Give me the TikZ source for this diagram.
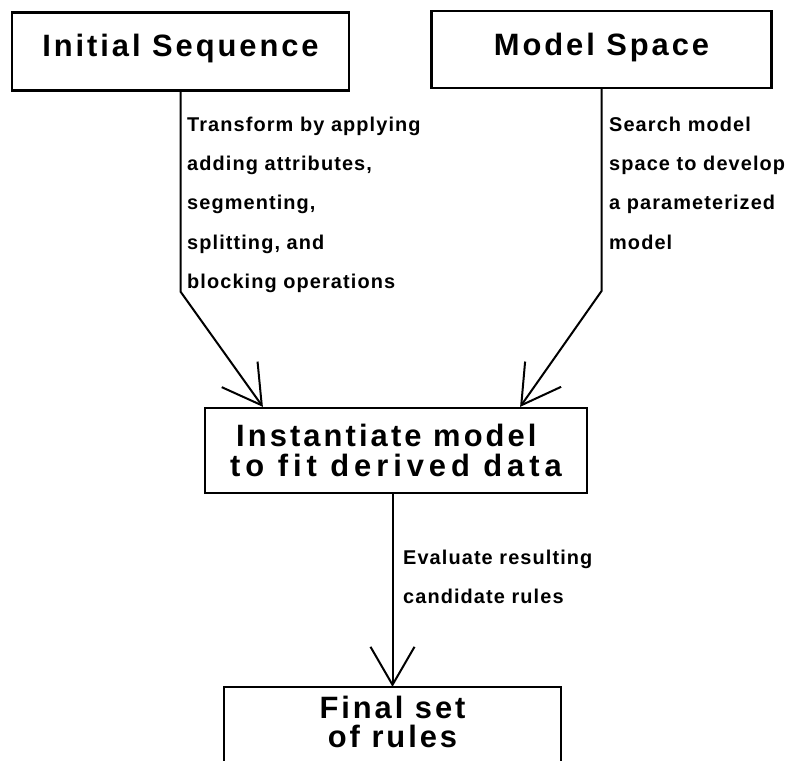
\documentclass[tikz,border=0pt]{standalone}
\usepackage{fontspec}
\setmainfont{Liberation Sans}
\newfontfamily\ttlfont[LetterSpace=9.5]{Liberation Sans}
\newfontfamily\midfonta[LetterSpace=10]{Liberation Sans}
\newfontfamily\midfontb[LetterSpace=16]{Liberation Sans}
\newfontfamily\lblfont[LetterSpace=5.5]{Liberation Sans}
\usetikzlibrary{arrows.meta,calc}
\tikzset{
  box/.style={draw, line width=2.2bp, rectangle, inner sep=0pt},
  ttl/.style={font=\ttlfont\bfseries\fontsize{31}{30}\selectfont},
  midttl/.style={font=\bfseries\fontsize{31}{30}\selectfont, align=left},
  lbl/.style={font=\lblfont\bfseries\fontsize{20}{39.5}\selectfont, align=left, inner sep=0pt, anchor=north west},
  arr/.style={line width=2bp, -{Straight Barb[length=38bp,width=44bp,line width=2bp]}},
}
\begin{document}
\begin{tikzpicture}[x=1bp,y=-1bp]
\fill[white] (0,0) rectangle (793,761);
\useasboundingbox (0,0) rectangle (793,761);
\clip (0,0) rectangle (793,761);

\node[box, ttl, minimum width=337bp, minimum height=78bp, text height=23bp, text depth=12bp] (A) at (180.5,51.5) {Initial Sequence};
\node[box, ttl, minimum width=340bp, minimum height=77bp, text height=23bp, text depth=11bp] (B) at (601.5,49.5) {Model Space};
\node[box, midttl, minimum width=382bp, minimum height=85bp] (M) at (396,450.5) {\midfonta\hspace*{6bp}Instantiate model\\\midfontb to fit derived data};
\node[ttl, align=center, inner sep=0pt, minimum width=337bp, minimum height=70bp] (F) at (392.5,722) {Final set\\of rules};
\draw[line width=2.2bp] ($(F.north west)+(0,100)$) -- (F.north west) -- (F.north east) -- ($(F.north east)+(0,100)$);

\node[lbl] (L1) at (187,116.5) {Transform by applying\\adding attributes,\\segmenting,\\splitting, and\\blocking operations};
\node[lbl] (L2) at (609,116.5) {Search model\\space to develop\\a parameterized\\model};
\node[lbl] (L3) at (403,549.5) {\fontsize{20}{37.5}\selectfont Evaluate resulting\\candidate rules};

\draw[arr] (A.south) -- ($(A.south)+(0,200)$) -- ($(M.north west)+(59,0)$);
\draw[arr] (B.south) -- ($(B.south)+(0,202)$) -- ($(M.north east)+(-68,0)$);
\draw[arr] (F.north |- M.south) -- (F.north);
\end{tikzpicture}
\end{document}
